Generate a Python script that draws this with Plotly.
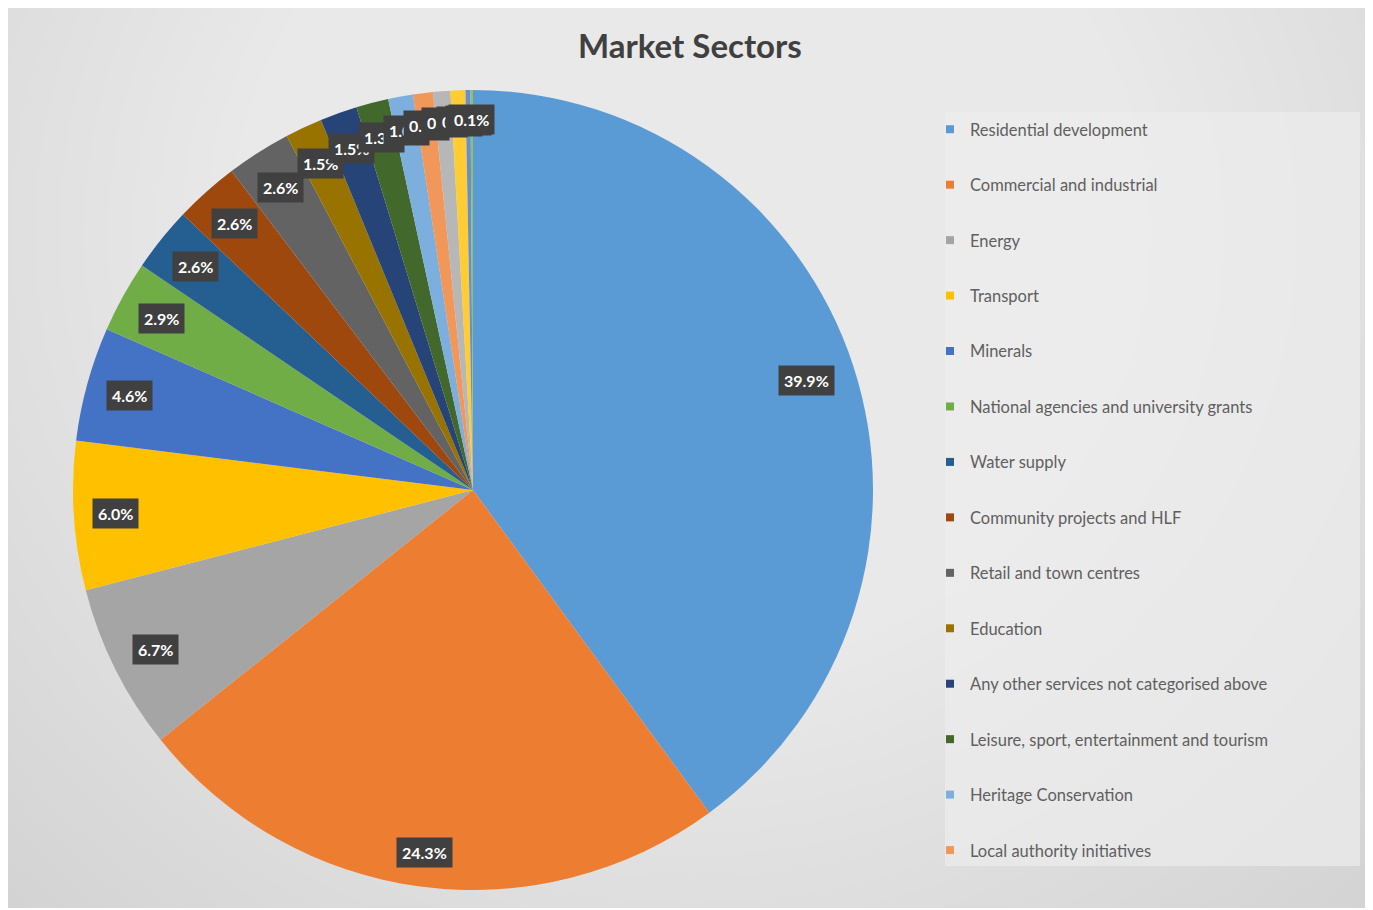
import numpy as np
import plotly.graph_objects as go

# ---------------- data ----------------
sectors = [
    "Residential development",
    "Commercial and industrial",
    "Energy",
    "Transport",
    "Minerals",
    "National agencies and university grants",
    "Water supply",
    "Community projects and HLF",
    "Retail and town centres",
    "Education",
    "Any other services not categorised above",
    "Leisure, sport, entertainment and tourism",
    "Heritage Conservation",
    "Local authority initiatives",
    "Other sector 15",
    "Other sector 16",
    "Other sector 17",
    "Other sector 18",
]
shares = [39.9, 24.3, 6.7, 6.0, 4.6, 2.9, 2.6, 2.6, 2.6, 1.5, 1.5, 1.3, 1.0, 0.8, 0.7, 0.6, 0.2, 0.1]
colors = ["#5B9BD5", "#ED7D31", "#A5A5A5", "#FFC000", "#4472C4", "#70AD47",
          "#255E91", "#9E480E", "#636363", "#997300", "#264478", "#43682B",
          "#7CAFDD", "#F1975A", "#B7B7B7", "#FFCD33", "#698ED0", "#8CC168"]
legend_visible_count = 14  # the reference legend is cut after 14 entries
title_text = "Market Sectors"

# ---------------- layout geometry ----------------
O = 8                      # page body margin of the html page
W, H = 1373 - O, 910 - O   # figure size
def X(px):  # screenshot px -> paper
    return (px - O) / W
def Y(py):
    return 1 - (py - O) / H

cx, cy, R = 473, 490, 400  # pie centre / radius in screenshot px

fig = go.Figure()
fig.add_trace(go.Pie(
    labels=sectors, values=shares, sort=False, direction="clockwise", rotation=0,
    marker=dict(colors=colors, line=dict(width=0)),
    textinfo="none", showlegend=False, hoverinfo="label+percent",
    domain=dict(x=[X(cx - R), X(cx + R)], y=[Y(cy + R), Y(cy - R)]),
))

# legend entries (one group each to get Excel-like spacing)
for i, (name, col) in enumerate(zip(sectors, colors)):
    fig.add_trace(go.Scatter(
        x=[None], y=[None], mode="markers", name=name, legendgroup=f"g{i}",
        showlegend=i < legend_visible_count,
        marker=dict(symbol="square", size=8, color=col), hoverinfo="skip",
    ))

# data labels: dark boxes placed inside the slice near its outer edge
vals = np.array(shares, dtype=float)
total = vals.sum()
cum = np.concatenate([[0], np.cumsum(vals)[:-1]])
mid = 2 * np.pi * (cum + vals / 2) / total
annotations = []
for v, th in zip(vals, mid):
    txt = f"{v:.1f}%"
    p = (9.5 * len(txt) + 14) / 2
    q = 14
    sx, sy = np.sin(th), -np.cos(th)
    a, b = abs(sx), abs(sy)
    T = R - 15
    k = a * p + b * q
    d = -k + np.sqrt(k * k - (p * p + q * q - T * T))
    px_, py_ = cx + sx * d, cy + sy * d
    annotations.append(dict(
        x=X(px_), y=Y(py_), xref="paper", yref="paper", text=txt, showarrow=False,
        font=dict(family="Lato", size=16, color="white", weight="bold"),
        bgcolor="#404040", borderpad=5, xanchor="center", yanchor="middle",
    ))

annotations.append(dict(
    x=X(690), y=Y(45), xref="paper", yref="paper", text=title_text, showarrow=False,
    font=dict(family="Lato", size=33, color="#404040", weight="bold"),
    xanchor="center", yanchor="middle",
))

# background: soft radial gradient via stacked translucent ellipses
shapes = []
N = 45
for i in range(N):
    f = 1 - i / N
    rx, ry = 0.8 * f, 1.15 * f
    shapes.append(dict(type="circle", xref="paper", yref="paper", layer="below",
                       x0=0.5 - rx, x1=0.5 + rx, y0=0.75 - ry, y1=0.75 + ry,
                       fillcolor="rgba(255,255,255,0.045)", line=dict(width=0)))
# legend panel
shapes.append(dict(type="rect", xref="paper", yref="paper", layer="below",
                   x0=X(945), x1=X(1360), y0=Y(866), y1=Y(112),
                   fillcolor="rgba(236,236,236,0.7)", line=dict(width=0)))
# white outer frame on right / bottom
shapes.append(dict(type="rect", xref="paper", yref="paper", layer="above",
                   x0=X(1370), x1=1.01, y0=-0.01, y1=1, fillcolor="white", line=dict(width=0)))
shapes.append(dict(type="rect", xref="paper", yref="paper", layer="above",
                   x0=0, x1=1, y0=-0.01, y1=Y(908), fillcolor="white", line=dict(width=0)))

fig.update_layout(
    width=W, height=H, margin=dict(l=0, r=0, t=0, b=0),
    paper_bgcolor="#c9c9c9", plot_bgcolor="rgba(0,0,0,0)",
    xaxis=dict(visible=False), yaxis=dict(visible=False),
    shapes=shapes, annotations=annotations,
    legend=dict(x=X(930), y=Y(112), xanchor="left", yanchor="top",
                bgcolor="rgba(0,0,0,0)", tracegroupgap=31.0,
                font=dict(family="Lato", size=16.5, color="#5f5f5f")),
)

fig.write_html("out.html")
